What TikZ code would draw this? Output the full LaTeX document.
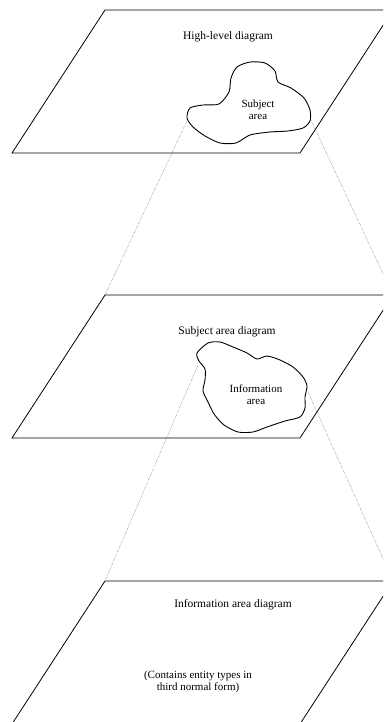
\documentclass[tikz,border=0pt]{standalone}
\usepackage{fontspec}
\setmainfont{Liberation Serif}
\begin{document}
\begin{tikzpicture}[x=1pt, y=-1pt,
    plane/.style={thick},
    region/.style={line width=0.9pt, smooth cycle, tension=0.45},
    proj/.style={densely dotted, black!75},
    title/.style={font=\fontsize{11.5}{13}\selectfont},
    area/.style={font=\fontsize{11}{12}\selectfont, align=center}]
  \useasboundingbox (0,0) rectangle (383,722);
  \clip (0,0) rectangle (383,722);
  % the three levels
  \foreach \n/\y in {high/10, subj/295, info/581} {
    \coordinate (\n-tl) at (105,\y);
    \coordinate (\n-tr) at (393,\y);
    \coordinate (\n-br) at (300,\y+143);
    \coordinate (\n-bl) at (12,\y+143);
    \draw[plane] (\n-bl) -- (\n-tl) -- (\n-tr) -- (\n-br) -- cycle;
  }
  \node[title] (hightitle) at (228,37) {High-level diagram};
  \node[title] (subjtitle) at (227,332) {Subject area diagram};
  \node[title] (infotitle) at (233,605) {Information area diagram};
  \node[area] (contains) at (198,682) {(Contains entity types in\\third normal form)};
  % subject area blob
  \draw[region] plot coordinates {(187,118) (190,108) (203,105) (219,104) (229,92)
    (231,78) (237,67) (250,62) (265,63) (275,71) (278,82) (291,88) (304,98)
    (310,110) (310,121) (303,128) (288,131) (270,132) (250,135) (236,143)
    (220,143) (205,136) (193,127)};
  \node[area] (subjarea) at (258,110) {Subject\\area};
  \coordinate (subjl) at (187,121);
  \coordinate (subjr) at (310,118);
  % information area blob
  \draw[region] plot coordinates {(197,353) (208,343) (220,342) (233,347)
    (247,353) (257,359) (267,356) (280,360) (293,367) (303,377) (307,386)
    (305,397) (305,408) (300,417) (285,421) (267,427) (253,432) (238,432)
    (224,425) (214,414) (208,402) (203,391) (205,380) (205,369) (199,361)};
  \node[area] (infoarea) at (256,395) {Information\\area};
  \coordinate (infol) at (198,365);
  \coordinate (infor) at (308,392);
  % projection lines
  \draw[proj] (subjl) -- (subj-tl);
  \draw[proj] (subjr) -- (subj-tr);
  \draw[proj] (infol) -- (info-tl);
  \draw[proj] (infor) -- (info-tr);
\end{tikzpicture}
\end{document}
